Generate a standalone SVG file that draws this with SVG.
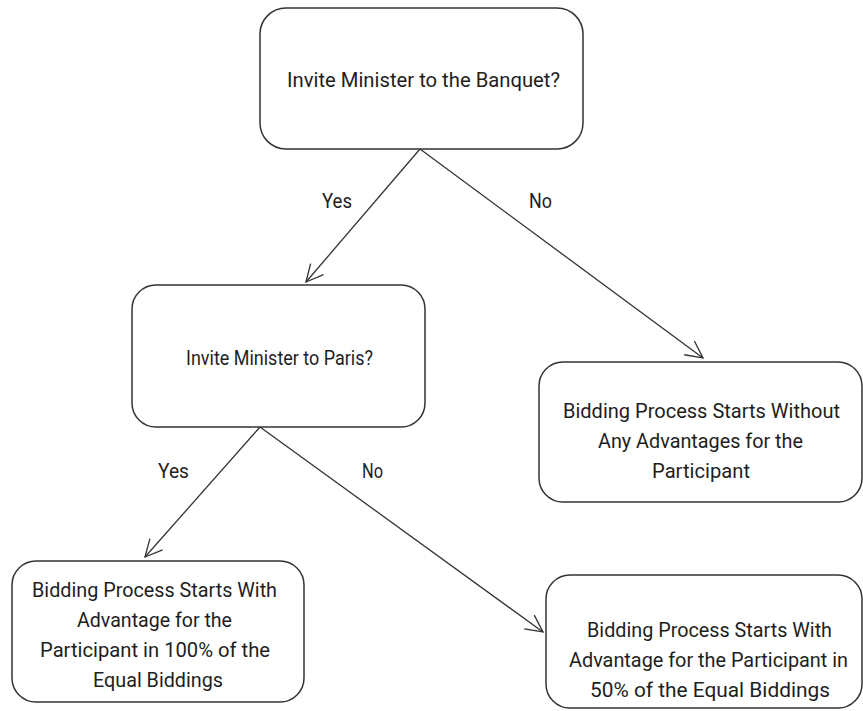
<svg xmlns="http://www.w3.org/2000/svg" width="863" height="711" viewBox="0 0 863 711">
<style>
.box{fill:#fff;stroke:#333;stroke-width:1.5}
.t{font-family:Roboto,"Liberation Sans",sans-serif;font-size:21px;fill:#1e1e1e}
.c{stroke:#333;stroke-width:1.3;fill:none}
</style>
<defs>
<marker id="ah" markerUnits="userSpaceOnUse" markerWidth="40" markerHeight="40" refX="0" refY="0" viewBox="-20 -20 40 40" orient="auto">
<path d="M-17,-8.5 L0,0 L-17,8.5" fill="none" stroke="#333" stroke-width="1.3"/>
</marker>
</defs>
<rect width="863" height="711" fill="#fff"/>
<g id="connectors">
<line class="c" x1="420" y1="149" x2="306" y2="282" marker-end="url(#ah)"/>
<line class="c" x1="420" y1="149" x2="703" y2="358" marker-end="url(#ah)"/>
<line class="c" x1="260" y1="427" x2="145" y2="557" marker-end="url(#ah)"/>
<line class="c" x1="260" y1="427" x2="543" y2="632" marker-end="url(#ah)"/>
<text class="t" x="322" y="208" textLength="30" lengthAdjust="spacingAndGlyphs">Yes</text>
<text class="t" x="529" y="208" textLength="23" lengthAdjust="spacingAndGlyphs">No</text>
<text class="t" x="158" y="478" textLength="31" lengthAdjust="spacingAndGlyphs">Yes</text>
<text class="t" x="362" y="478" textLength="21" lengthAdjust="spacingAndGlyphs">No</text>
</g>
<g id="n1">
<rect class="box" x="260" y="8" width="323" height="141" rx="26"/>
<text class="t" x="287" y="87" textLength="273" lengthAdjust="spacingAndGlyphs">Invite Minister to the Banquet?</text>
</g>
<g id="n2">
<rect class="box" x="132" y="285" width="293" height="142" rx="24"/>
<text class="t" x="186" y="365" textLength="187" lengthAdjust="spacingAndGlyphs">Invite Minister to Paris?</text>
</g>
<g id="n3">
<rect class="box" x="539" y="362" width="323" height="140" rx="24"/>
<text class="t" x="563" y="418" textLength="277" lengthAdjust="spacingAndGlyphs">Bidding Process Starts Without</text>
<text class="t" x="598" y="448" textLength="205" lengthAdjust="spacingAndGlyphs">Any Advantages for the</text>
<text class="t" x="652" y="478" textLength="98" lengthAdjust="spacingAndGlyphs">Participant</text>
</g>
<g id="n4">
<rect class="box" x="12" y="561" width="292" height="141" rx="24"/>
<text class="t" x="32" y="597" textLength="245" lengthAdjust="spacingAndGlyphs">Bidding Process Starts With</text>
<text class="t" x="77" y="627" textLength="155" lengthAdjust="spacingAndGlyphs">Advantage for the</text>
<text class="t" x="40" y="657" textLength="230" lengthAdjust="spacingAndGlyphs">Participant in 100% of the</text>
<text class="t" x="93" y="687" textLength="130" lengthAdjust="spacingAndGlyphs">Equal Biddings</text>
</g>
<g id="n5">
<rect class="box" x="546" y="575" width="316" height="133" rx="24"/>
<text class="t" x="587" y="637" textLength="245" lengthAdjust="spacingAndGlyphs">Bidding Process Starts With</text>
<text class="t" x="569" y="667" textLength="279" lengthAdjust="spacingAndGlyphs">Advantage for the Participant in</text>
<text class="t" x="590" y="697" textLength="240" lengthAdjust="spacingAndGlyphs">50% of the Equal Biddings</text>
</g>
</svg>
